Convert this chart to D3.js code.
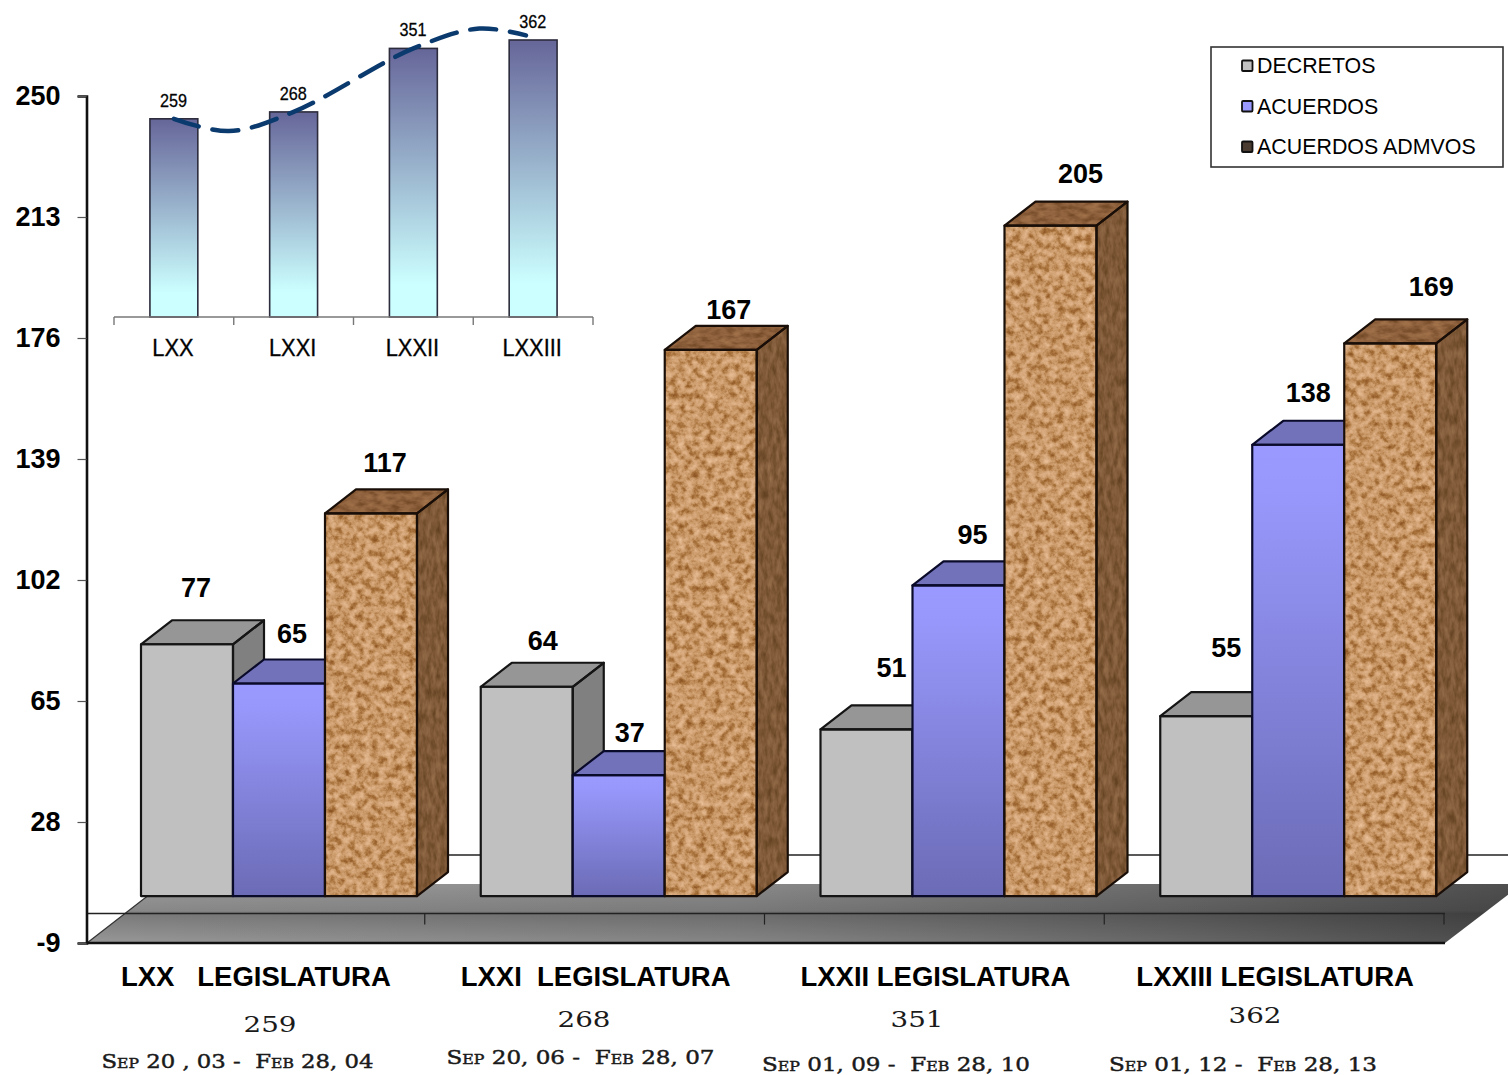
<!DOCTYPE html>
<html><head><meta charset="utf-8">
<script src="https://cdn.jsdelivr.net/npm/d3@7"></script>
<style>
html,body{margin:0;padding:0;background:#fff}
svg{display:block}
text{font-family:"Liberation Sans",Arial,sans-serif;fill:#000}
.cop{font-family:"DejaVu Serif",serif;fill:#1a1a1a}
</style></head><body>
<svg id="c" width="1508" height="1075" viewBox="0 0 1508 1075"></svg>
<script>
const legislaturas = ["LXX","LXXI","LXXII","LXXIII"];
const categoryLabels = ["LXX   LEGISLATURA","LXXI  LEGISLATURA","LXXII LEGISLATURA","LXXIII LEGISLATURA"];
const seriesNames = ["DECRETOS","ACUERDOS","ACUERDOS ADMVOS"];
const decretos = [77,64,51,55];
const acuerdos = [65,37,95,138];
const acuerdosAdmvos = [117,167,205,169];
const totals = [259,268,351,362];
const dateRanges = ["Sep 20 , 03 -  Feb 28, 04","Sep 20, 06 -  Feb 28, 07","Sep 01, 09 -  Feb 28, 10","Sep 01, 12 -  Feb 28, 13"];
const yTicks = [-9,28,65,102,139,176,213,250];
const trendIdx = [0,0.46,1,2,2.55,2.94];
const trendVal = [259,243,268,351,377,368];

// label nudges relative to the mark: [dx, dy] per series, per legislatura
const labelNudge = [
 [[9,-47],[13,-41],[14,-41]],
 [[16,-37],[11,-33],[18,-31]],
 [[25,-52],[14,-41],[30,-43]],
 [[20,-59],[10,-43],[41,-47]]
];
const totalPos = [[270,1023],[584,1018],[917,1018],[1255,1014]];
const datePos = [[237.5,1061],[580.5,1057],[896,1064],[1243,1064]];

const svg = d3.select("#c");
const defs = svg.append("defs");
function grad(id,stops,x2,y2){
  const g=defs.append("linearGradient").attr("id",id).attr("x1",0).attr("y1",0).attr("x2",x2).attr("y2",y2);
  stops.forEach(s=>g.append("stop").attr("offset",s[0]).attr("stop-color",s[1]).attr("stop-opacity",s[2]===undefined?1:s[2]));
}
grad("gPurple",[[0,"#9999ff"],[0.12,"#9797fb"],[1,"#6b6bb6"]],0,1);
grad("gInset",[[0,"#666699"],[0.88,"#ccffff"],[1,"#ccffff"]],0,1);
grad("gFloor",[[0,"#9c9c9c"],[0.45,"#8a8a8a"],[0.75,"#6c6c6c"],[1,"#4e4e4e"]],1,0);
grad("gFloorV",[[0,"#000",0],[0.45,"#000",0.12],[0.5,"#000",0.22],[1,"#000",0.03]],0,1);

function cork(id,freq,r,g,b,oct){
  const f=defs.append("filter").attr("id",id).attr("color-interpolation-filters","sRGB")
    .attr("x","-5%").attr("y","-5%").attr("width","110%").attr("height","110%");
  f.append("feTurbulence").attr("type","fractalNoise").attr("baseFrequency",freq).attr("numOctaves",oct).attr("seed",7).attr("result","n");
  f.append("feColorMatrix").attr("in","n").attr("type","matrix")
    .attr("values","1 0 0 0 0  1 0 0 0 0  1 0 0 0 0  0 0 0 0 1").attr("result","m");
  const t=f.append("feComponentTransfer").attr("in","m").attr("result","c");
  t.append("feFuncR").attr("type","table").attr("tableValues",r);
  t.append("feFuncG").attr("type","table").attr("tableValues",g);
  t.append("feFuncB").attr("type","table").attr("tableValues",b);
  f.append("feComposite").attr("in","c").attr("in2","SourceAlpha").attr("operator","in");
}
cork("corkFront","0.14",".50 .58 .68 .79 .85 .90 .95",".30 .36 .47 .60 .67 .73 .80",".12 .16 .26 .41 .50 .57 .66",4);
cork("corkSide","0.22 0.08",".36 .40 .45 .50 .54 .58 .62",".24 .27 .31 .35 .39 .42 .46",".12 .14 .18 .22 .26 .28 .31",3);
cork("corkTop","0.09 0.18",".40 .45 .50 .56 .60 .64 .68",".26 .29 .33 .38 .42 .45 .48",".13 .15 .19 .24 .27 .29 .32",3);

// scales
const y = d3.scaleLinear().domain([-9,250]).range([943,96]);
const floorLift = 17.5, dx3=31, dy3=-24;
const barY = v => y(v)-floorLift;
const x0 = d3.scaleBand().domain(legislaturas).range([85,1444]);
const x1 = d3.scaleBand().domain(seriesNames).range([56,332]);

// back wall line
svg.append("line").attr("x1",148).attr("x2",1508).attr("y1",855).attr("y2",855).attr("stroke","#222").attr("stroke-width",1.6);

// floor
const floorPts = [[87,y(-9)],[1445,y(-9)],[1522,884],[163,884]];
const floorD = "M"+floorPts.join("L")+"Z";
svg.append("path").attr("d",floorD).attr("fill","url(#gFloor)");
svg.append("path").attr("d",floorD).attr("fill","url(#gFloorV)");
svg.append("path").attr("d",`M${floorPts[3]}L${floorPts[0]}`).attr("fill","none").attr("stroke","#333").attr("stroke-width",1.2);
svg.append("line").attr("x1",87).attr("x2",1445).attr("y1",y(0)).attr("y2",y(0)).attr("stroke","#222").attr("stroke-width",1.6);
svg.selectAll(".xt").data(legislaturas).join("line").attr("class","xt")
  .attr("x1",d=>x0(d)+x0.bandwidth()).attr("x2",d=>x0(d)+x0.bandwidth())
  .attr("y1",y(0)).attr("y2",y(0)+11).attr("stroke","#222").attr("stroke-width",1.2);
svg.append("line").attr("x1",87).attr("x2",1445).attr("y1",y(-9)).attr("y2",y(-9)).attr("stroke","#111").attr("stroke-width",2.4);

// y axis
const ax = svg.append("g").attr("transform","translate(86.5,0)")
  .call(d3.axisLeft(y).tickValues(yTicks).tickSize(9).tickPadding(17).tickFormat(d=>String(d)));
ax.select(".domain").attr("stroke","#111").attr("stroke-width",2.6);
ax.selectAll(".tick line").attr("stroke","#555").attr("stroke-width",1.2);
ax.selectAll(".tick text").attr("font-family","Liberation Sans").attr("font-weight","bold").attr("font-size",27).attr("fill","#111").attr("dy","0.32em");

// 3D bars
const styles = {
  "DECRETOS":{front:"#c0c0c0",top:"#969696",side:"#808080",stroke:"#151515"},
  "ACUERDOS":{front:"url(#gPurple)",top:"#7272bb",side:"#6666a8",stroke:"#0a0a2a"},
  "ACUERDOS ADMVOS":{front:"#b98",top:"#765",side:"#654",stroke:"#1a0f08",cork:true}
};
const serieValues = [decretos,acuerdos,acuerdosAdmvos];
legislaturas.forEach((leg,i)=>{
  const g = svg.append("g").attr("class","grp");
  seriesNames.forEach((s,k)=>{
    const v = serieValues[k][i], st=styles[s];
    const xa = x0(leg)+x1(s), w=x1.bandwidth(), t=barY(v), b=barY(0);
    const top = `M${xa},${t}L${xa+dx3},${t+dy3}L${xa+w+dx3},${t+dy3}L${xa+w},${t}Z`;
    const side = `M${xa+w},${t}L${xa+w+dx3},${t+dy3}L${xa+w+dx3},${b+dy3}L${xa+w},${b}Z`;
    const front = `M${xa},${t}H${xa+w}V${b}H${xa}Z`;
    if(st.cork){
      g.append("path").attr("d",side).attr("fill","#6b4a2c").attr("filter","url(#corkSide)");
      g.append("path").attr("d",top).attr("fill","#7b5a3c").attr("filter","url(#corkTop)");
      g.append("path").attr("d",front).attr("fill","#b98").attr("filter","url(#corkFront)");
    } else {
      g.append("path").attr("d",side).attr("fill",st.side);
      g.append("path").attr("d",top).attr("fill",st.top);
      g.append("path").attr("d",front).attr("fill",st.front);
    }
    [side,top,front].forEach(d=>g.append("path").attr("d",d).attr("fill","none").attr("stroke",st.stroke).attr("stroke-width",2.2).attr("stroke-linejoin","round"));
  });
});
// value labels on top of all bars
legislaturas.forEach((leg,i)=>{
  seriesNames.forEach((s,k)=>{
    const v=serieValues[k][i], n=labelNudge[i][k];
    svg.append("text").attr("x",x0(leg)+x1(s)+x1.bandwidth()/2+n[0]).attr("y",barY(v)+n[1])
      .attr("text-anchor","middle").attr("font-weight","bold").attr("font-size",27).attr("fill","#111").text(v);
  });
});

// category labels
svg.selectAll(".cat").data(categoryLabels).join("text").attr("class","cat")
  .attr("x",(d,i)=>x0(legislaturas[i])+x0.bandwidth()/2+1).attr("y",986)
  .attr("text-anchor","middle").attr("font-weight","bold").attr("font-size",27.5)
  .style("white-space","pre").attr("fill","#111").text(d=>d);
// totals
svg.selectAll(".tot").data(totals).join("text").attr("class","tot cop")
  .attr("x",(d,i)=>totalPos[i][0]).attr("y",(d,i)=>totalPos[i][1]+8.5)
  .attr("text-anchor","middle").attr("font-size",23)
  .attr("textLength",53).attr("lengthAdjust","spacingAndGlyphs").text(d=>d);
// date ranges
svg.selectAll(".dt").data(dateRanges).join("text").attr("class","dt cop")
  .attr("x",(d,i)=>datePos[i][0]).attr("y",(d,i)=>datePos[i][1]+7)
  .attr("text-anchor","middle").attr("font-size",19).style("font-variant","small-caps")
  .style("white-space","pre").attr("stroke","#1a1a1a").attr("stroke-width",0.45)
  .attr("textLength",(d,i)=>i==0?272:268).attr("lengthAdjust","spacingAndGlyphs").text(d=>d);

// inset chart
const ix = d3.scaleBand().domain(legislaturas).range([114,593]).paddingInner(0.6).paddingOuter(0.3);
const iy = d3.scaleLinear().domain([0,362]).range([317,40]);
svg.selectAll(".ib").data(totals).join("rect").attr("class","ib")
  .attr("x",(d,i)=>ix(legislaturas[i])).attr("width",ix.bandwidth())
  .attr("y",d=>iy(d)).attr("height",d=>iy(0)-iy(d))
  .attr("fill","url(#gInset)").attr("stroke","#2c2c3c").attr("stroke-width",1.6);
const step = ix.step();
const axisG = svg.append("g");
axisG.append("line").attr("x1",114).attr("x2",593).attr("y1",317).attr("y2",317).attr("stroke","#777").attr("stroke-width",1.4);
d3.range(5).forEach(i=>axisG.append("line").attr("x1",114+i*step).attr("x2",114+i*step).attr("y1",317).attr("y2",325).attr("stroke","#777").attr("stroke-width",1.4));
svg.selectAll(".il").data(legislaturas).join("text").attr("class","il")
  .attr("transform",d=>`translate(${ix(d)+ix.bandwidth()/2-1},356) scale(.91,1)`)
  .attr("text-anchor","middle").attr("font-size",24).attr("fill","#111").attr("stroke","#111").attr("stroke-width",0.35).text(d=>d);
svg.selectAll(".iv").data(totals).join("text").attr("class","iv")
  .attr("transform",(d,i)=>`translate(${ix(legislaturas[i])+ix.bandwidth()/2-0.5},${iy(d)-12}) scale(.9,1)`)
  .attr("text-anchor","middle").attr("font-size",18).attr("fill","#111").attr("stroke","#111").attr("stroke-width",0.3).text(d=>d);
const tx = d3.scaleLinear().domain([0,3]).range([ix("LXX")+ix.bandwidth()/2, ix("LXXIII")+ix.bandwidth()/2]);
svg.append("path").datum(trendIdx.map((t,i)=>[t,trendVal[i]]))
  .attr("d",d3.line().x(d=>tx(d[0])).y(d=>iy(d[1])).curve(d3.curveCatmullRom.alpha(0.5)))
  .attr("fill","none").attr("stroke","#0b3a6e").attr("stroke-width",4.5).attr("stroke-linecap","round")
  .attr("stroke-dasharray","26 14");

// legend
svg.append("rect").attr("x",1211).attr("y",47).attr("width",292).attr("height",120).attr("fill","#fff").attr("stroke","#333").attr("stroke-width",1.6);
const legendFill = d3.scaleOrdinal().domain(seriesNames).range(["#c0c0c0","#9999ff","#4a3c30"]);
const legY = d3.scalePoint().domain(seriesNames).range([66,147]);
const lg = svg.selectAll(".lg").data(seriesNames).join("g").attr("class","lg").attr("transform",d=>`translate(1242,${legY(d)})`);
lg.append("rect").attr("x",0).attr("y",-5.5).attr("width",10.5).attr("height",10.5).attr("rx",1).attr("fill",legendFill).attr("stroke","#111").attr("stroke-width",1.8);
lg.append("text").attr("x",15).attr("y",7).attr("font-size",21.4).attr("fill","#222").text(d=>d);
</script>
</body></html>
